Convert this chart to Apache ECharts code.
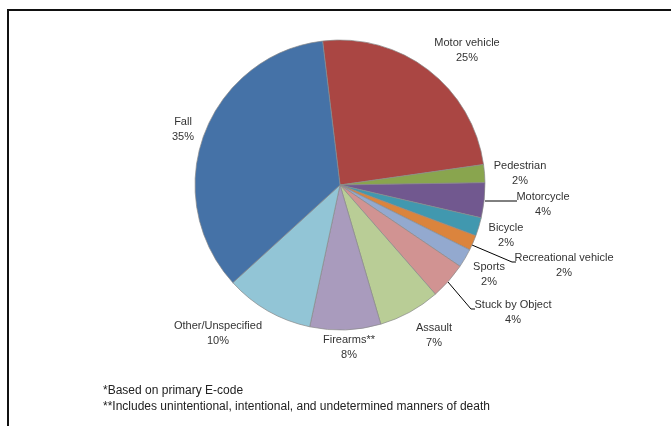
<!DOCTYPE html>
<html>
<head>
<meta charset="utf-8">
<script src="https://cdn.jsdelivr.net/npm/echarts@6/dist/echarts.min.js"></script>
<style>html,body{margin:0;padding:0;background:#fff}#c{width:671px;height:426px}</style>
</head>
<body>
<div id="c"></div>
<script>
// Data (clockwise from top)
const categories = ['Motor vehicle','Pedestrian','Motorcycle','Bicycle','Recreational vehicle','Sports','Stuck by Object','Assault','Firearms**','Other/Unspecified','Fall'];
const values = [24.7, 2.0, 3.9, 2.05, 1.7, 2.1, 4.1, 6.9, 7.9, 9.9, 34.9];
const pctLabels = ['25%','2%','4%','2%','2%','2%','4%','7%','8%','10%','35%'];
const footnotes = ['*Based on primary E-code', '**Includes unintentional, intentional, and undetermined manners of death'];

const colors = ['#AA4643','#89A54E','#71588F','#4198AF','#DB843D','#93A9CF','#D19392','#B9CD96','#A99BBD','#92C5D6','#4572A7'];
const FONT = "'Liberation Sans Narrow','Arial Narrow','Liberation Sans',Arial,sans-serif";

// label layout (centre of text block) and leader lines
const labelPos = {
  'Motor vehicle': [467, 50],
  'Pedestrian': [520, 173],
  'Motorcycle': [543, 204],
  'Bicycle': [506, 235],
  'Recreational vehicle': [564, 265],
  'Sports': [489, 274],
  'Stuck by Object': [513, 312],
  'Assault': [434, 335],
  'Firearms**': [349, 347],
  'Other/Unspecified': [218, 333],
  'Fall': [183, 129]
};
const leaders = {
  'Motorcycle': [[485, 201], [500, 201], [517, 201]],
  'Recreational vehicle': [[472, 245], [512, 262], [516, 262]],
  'Stuck by Object': [[448, 282], [471, 309], [475, 309]]
};

const data = categories.map((c, i) => ({
  name: c,
  value: values[i],
  pct: pctLabels[i],
  itemStyle: { color: colors[i] },
  labelLine: { show: !!leaders[c] }
}));

const chart = echarts.init(document.getElementById('c'), null, { renderer: 'canvas' });
chart.setOption({
  animation: false,
  backgroundColor: '#fff',
  graphic: [
    { type: 'line', shape: { x1: 7, y1: 10, x2: 671, y2: 10 }, style: { stroke: '#111', lineWidth: 2 } },
    { type: 'line', shape: { x1: 8, y1: 9, x2: 8, y2: 426 }, style: { stroke: '#111', lineWidth: 2 } },
    { type: 'text', left: 103, top: 385, style: { text: footnotes[0], font: '12px ' + FONT, fill: '#222' } },
    { type: 'text', left: 103, top: 401, style: { text: footnotes[1], font: '12px ' + FONT, fill: '#222' } }
  ],
  series: [{
    type: 'pie',
    center: [340, 185],
    radius: 145,
    startAngle: 96.9,
    clockwise: true,
    avoidLabelOverlap: false,
    itemStyle: { borderColor: '#8a8a8a', borderWidth: 0.7 },
    label: {
      show: true,
      position: 'outside',
      formatter: p => p.name + '\n' + p.data.pct,
      fontFamily: FONT,
      fontSize: 11,
      lineHeight: 15,
      color: '#333',
      align: 'center'
    },
    labelLine: { show: false, lineStyle: { color: '#000', width: 1 } },
    labelLayout: function (params) {
      const name = categories[params.dataIndex];
      const pos = labelPos[name];
      const res = { x: pos[0], y: pos[1], align: 'center', verticalAlign: 'middle' };
      if (leaders[name]) res.labelLinePoints = leaders[name];
      return res;
    },
    data: data
  }]
});
</script>
</body>
</html>
